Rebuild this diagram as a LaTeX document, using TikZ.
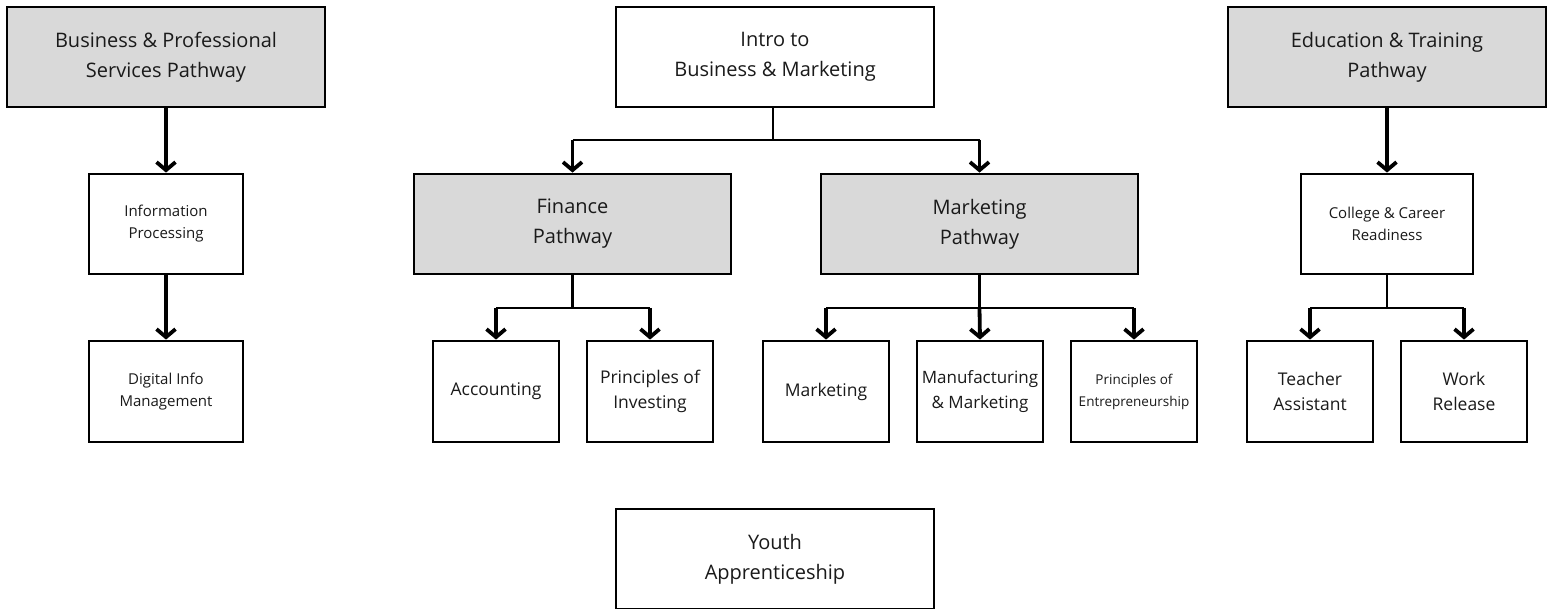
\documentclass[tikz,border=0pt]{standalone}
\usepackage{fontspec}
\setmainfont{Open Sans}
\usetikzlibrary{arrows.meta}
\definecolor{boxgray}{HTML}{D9D9D9}
\definecolor{txt}{HTML}{1A1A1A}
\tikzset{
  box/.style={draw=black, line width=2.8pt, fill=white, inner sep=0pt, align=center, text=txt},
  graybox/.style={box, fill=boxgray},
  big/.style={minimum width=318pt, minimum height=100pt, font=\fontsize{20}{30}\selectfont},
  small/.style={minimum width=126pt, minimum height=101pt},
  conn/.style={line width=2.2pt},
  arr/.style={line width=3.8pt, -{Straight Barb[length=8pt,width=19pt]}},
}
\begin{document}
\begin{tikzpicture}[x=1pt,y=-1pt]
\useasboundingbox (0,0) rectangle (1553,609);
% top row
\node[graybox, big] (bps) at (166,57) {Business \& Professional\\Services Pathway};
\node[box, big] (intro) at (775,57) {Intro to\\Business \& Marketing};
\node[graybox, big] (edu) at (1387,57) {Education \& Training\\Pathway};
% second row
\node[box, minimum width=154pt, minimum height=100pt, font=\fontsize{15}{22}\selectfont] (info) at (166,224) {Information\\Processing};
\node[graybox, big, minimum width=317pt] (fin) at (572.5,224) {Finance\\Pathway};
\node[graybox, big, minimum width=317pt] (mkp) at (979.5,224) {Marketing\\Pathway};
\node[box, minimum width=172pt, minimum height=100pt, font=\fontsize{15}{22}\selectfont] (col) at (1387,224) {College \& Career\\Readiness};
% third row
\node[box, minimum width=154pt, minimum height=101pt, font=\fontsize{15}{22}\selectfont] (dig) at (166,391.5) {Digital Info\\Management};
\node[box, small, font=\fontsize{17.5}{25}\selectfont] (acc) at (496,391.5) {Accounting};
\node[box, small, font=\fontsize{17.5}{25}\selectfont] (inv) at (650,391.5) {Principles of\\Investing};
\node[box, small, font=\fontsize{17.5}{25}\selectfont] (mkt) at (826,391.5) {Marketing};
\node[box, small, font=\fontsize{17}{25}\selectfont] (man) at (980,391.5) {Manufacturing\\\&~Marketing};
\node[box, small, font=\fontsize{13.5}{22}\selectfont] (ent) at (1134,391.5) {Principles of\\Entrepreneurship};
\node[box, small, font=\fontsize{17.5}{25}\selectfont] (tea) at (1310,391.5) {Teacher\\Assistant};
\node[box, small, font=\fontsize{17.5}{25}\selectfont] (wor) at (1464,391.5) {Work\\Release};
% bottom
\node[box, big] (you) at (775,559) {Youth\\Apprenticeship};
% connectors
\draw[arr] (bps.south) -- (info.north);
\draw[arr] (info.south) -- (dig.north);
\draw[arr] (edu.south) -- (col.north);
\coordinate (j1) at (773,140);
\coordinate (f1) at (572.5,140);
\coordinate (m1) at (979.5,140);
\draw[conn] (intro.south -| j1) -- (j1);
\draw[conn] (f1) -- (m1);
\draw[arr] (f1) -- (fin.north);
\draw[arr] (m1) -- (mkp.north);
\coordinate (j2) at (572.5,308);
\draw[conn] (fin.south) -- (j2);
\draw[conn] (acc.north |- j2) -- (inv.north |- j2);
\draw[arr] (acc.north |- j2) -- (acc.north);
\draw[arr] (inv.north |- j2) -- (inv.north);
\coordinate (j3) at (979.5,308);
\draw[conn] (mkp.south) -- (j3);
\draw[conn] (mkt.north |- j3) -- (ent.north |- j3);
\draw[arr] (mkt.north |- j3) -- (mkt.north);
\draw[arr] (j3) -- (man.north);
\draw[arr] (ent.north |- j3) -- (ent.north);
\coordinate (j4) at (1387,308);
\draw[conn] (col.south) -- (j4);
\draw[conn] (tea.north |- j4) -- (wor.north |- j4);
\draw[arr] (tea.north |- j4) -- (tea.north);
\draw[arr] (wor.north |- j4) -- (wor.north);
\end{tikzpicture}
\end{document}
